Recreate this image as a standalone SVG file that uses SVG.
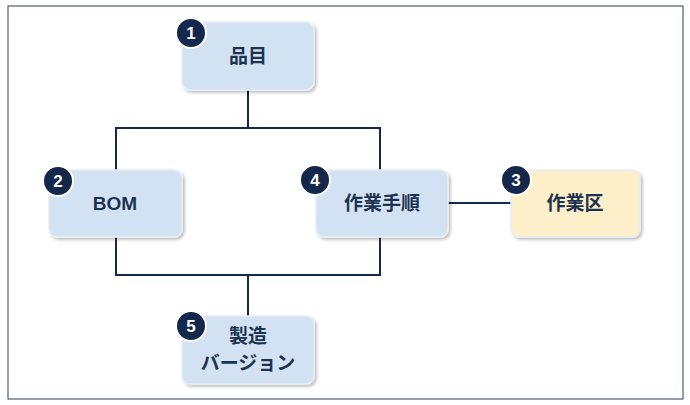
<svg xmlns="http://www.w3.org/2000/svg" width="690" height="405" viewBox="0 0 690 405">
<defs>
<filter id="sh" x="-10%" y="-10%" width="130%" height="130%"><feDropShadow dx="2" dy="2" stdDeviation="1.5" flood-color="#000" flood-opacity="0.25"/></filter>
<style>
.box{fill:#d3e2f3;stroke:#e8eef6;stroke-width:1.5;filter:url(#sh)}
.y{fill:#fdefc9}
.t{font-family:"Liberation Sans","Noto Sans CJK JP",sans-serif;font-weight:bold;font-size:19px;fill:#1c3350;text-anchor:middle}
.b{fill:#13284a;stroke:#fff;stroke-width:2}
.n{font-family:"Liberation Sans",sans-serif;font-weight:bold;font-size:17px;fill:#fff;text-anchor:middle}
.c{stroke:#13284a;stroke-width:2;fill:none}
</style>
</defs>
<rect width="690" height="405" fill="#fff"/>
<rect x="8" y="6" width="675" height="393" fill="none" stroke="#2a3f5a" stroke-width="1"/>
<g id="connectors">
<path class="c" d="M248 90V128M116 170V128H380V170M116 237V275H380V237M248 275V316M448 203H511"/>
</g>
<g id="n1"><rect class="box" x="182" y="22" width="132" height="68" rx="8"/><text class="t" x="248" y="63">品目</text><circle class="b" cx="191" cy="33" r="15"/><text class="n" x="191" y="39">1</text></g>
<g id="n2"><rect class="box" x="49" y="170" width="133" height="67" rx="8"/><text class="t" x="115" y="210">BOM</text><circle class="b" cx="58" cy="181" r="15"/><text class="n" x="58" y="187">2</text></g>
<g id="n4"><rect class="box" x="316" y="170" width="132" height="67" rx="8"/><text class="t" x="382" y="210">作業手順</text><circle class="b" cx="315" cy="180" r="15"/><text class="n" x="315" y="186">4</text></g>
<g id="n3"><rect class="box y" x="511" y="170" width="129" height="67" rx="8"/><text class="t" x="575" y="210">作業区</text><circle class="b" cx="516" cy="180" r="15"/><text class="n" x="516" y="186">3</text></g>
<g id="n5"><rect class="box" x="182" y="316" width="132" height="68" rx="8"/><text class="t" x="248" y="343">製造</text><text class="t" x="248" y="370">バージョン</text><circle class="b" cx="191" cy="326" r="15"/><text class="n" x="191" y="332">5</text></g>
</svg>
